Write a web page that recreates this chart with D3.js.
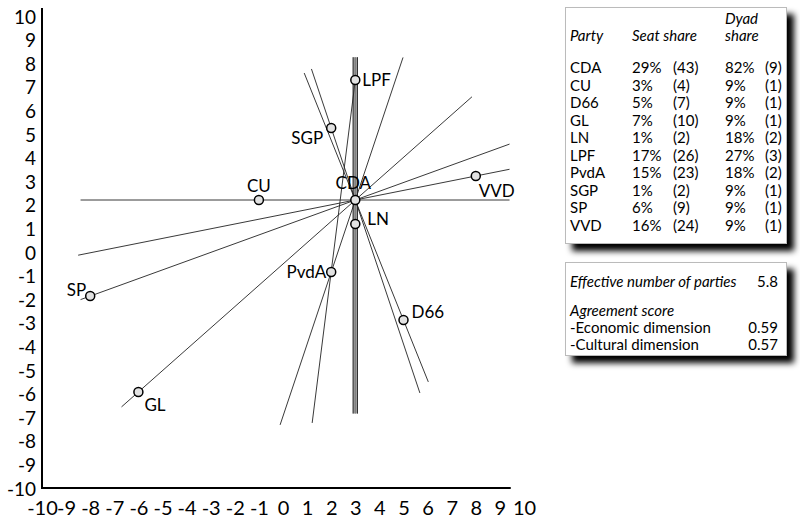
<!DOCTYPE html>
<html>
<head>
<meta charset="utf-8">
<script src="https://cdn.jsdelivr.net/npm/d3@7"></script>
<style>
  body { margin: 0; background: #fff; }
  svg { display: block; font-family: Lato, sans-serif; }
</style>
</head>
<body>
<svg id="chart" width="800" height="518"></svg>
<script>
// parties and their positions on the two dimensions
const parties = ['CDA', 'CU', 'D66', 'GL', 'LN', 'LPF', 'PvdA', 'SGP', 'SP', 'VVD'];
const posX = [3, -1, 5, -6, 3, 3, 2, 2, -8, 8];
const posY = [2, 2, -3, -6, 1, 7, -1, 5, -2, 3];

// table values
const seatPct = ['29%', '3%', '5%', '7%', '1%', '17%', '15%', '1%', '6%', '16%'];
const seatCount = ['(43)', '(4)', '(7)', '(10)', '(2)', '(26)', '(23)', '(2)', '(9)', '(24)'];
const dyadPct = ['82%', '9%', '9%', '9%', '18%', '27%', '18%', '9%', '9%', '9%'];
const dyadCount = ['(9)', '(1)', '(1)', '(1)', '(2)', '(3)', '(2)', '(1)', '(1)', '(1)'];

// dyads: the two parties and the line ends [x1, y1, x2, y2]
const dyadPairs = [['CDA', 'CU'], ['CDA', 'SP'], ['CDA', 'VVD'], ['CDA', 'GL'], ['CDA', 'PvdA'],
    ['CDA', 'D66'], ['CDA', 'SGP'], ['LPF', 'PvdA'], ['CDA', 'LN'], ['CDA', 'LPF'], ['LN', 'LPF']];
const dyadEnds = [
    [-8.4, 2, 9.4, 2],
    [-8.4, -2.15, 9.4, 4.33],
    [-8.5, -0.3, 9.4, 3.28],
    [-6.7, -6.62, 7.84, 6.3],
    [4.98, 7.94, -0.12, -7.37],
    [0.88, 7.29, 6.03, -5.58],
    [1.18, 7.46, 5.68, -6.04],
    [3, 7, 1.21, -7.29],
    [3, 7.95, 3, -6.9],
    [3, 7.95, 3, -6.9],
    [3, 7.95, 3, -6.9]
];

const effectiveParties = '5.8';
const agreementLabels = ['-Economic dimension', '-Cultural dimension'];
const agreementValues = ['0.59', '0.57'];

const ticks = d3.range(-10, 11);

const svg = d3.select('#chart');
const x = d3.scaleLinear().domain([-10, 10]).range([42, 524]);
const y = d3.scaleLinear().domain([-10, 10]).range([488, 8]);
// the tick labels of the original sit a bit tighter than the plot scale
const yLabel = d3.scaleLinear().domain([-10, 10]).range([489, 17]);

//shadow filter for the boxes
const defs = svg.append('defs');
const shadow = defs.append('filter').attr('id', 'shadow')
    .attr('x', '-10%').attr('y', '-10%').attr('width', '130%').attr('height', '130%');
shadow.append('feGaussianBlur').attr('in', 'SourceAlpha').attr('stdDeviation', 3);
shadow.append('feOffset').attr('dx', 7).attr('dy', 7).attr('result', 'off');
const merge = shadow.append('feMerge');
merge.append('feMergeNode').attr('in', 'off');
merge.append('feMergeNode').attr('in', 'SourceGraphic');

//axes, plain hyphen for the minus like the original
const fmt = d => String(d);
const xAxis = svg.append('g')
    .attr('transform', `translate(0,${y(-10)})`)
    .call(d3.axisBottom(x).tickValues(ticks).tickSize(0).tickPadding(13).tickFormat(fmt));
xAxis.select('.domain').remove();
xAxis.selectAll('text').attr('font-size', 20).attr('fill', '#000').attr('font-family', 'Lato, sans-serif');

const yAxis = svg.append('g')
    .attr('transform', `translate(${x(-10)},0)`)
    .call(d3.axisLeft(yLabel).tickValues(ticks).tickSize(0).tickPadding(6).tickFormat(fmt));
yAxis.select('.domain').remove();
yAxis.selectAll('text').attr('font-size', 19).attr('fill', '#000').attr('font-family', 'Lato, sans-serif');

svg.append('path')
    .attr('d', `M${x(-10)},${y(10)}V${y(-10)}H${x(9.45)}`)
    .attr('fill', 'none')
    .attr('stroke', '#000')
    .attr('stroke-width', 2);

//dyad lines, the ones on the same spot get spread a little
const plot = svg.append('g');
const seen = {};
const offsets = dyadEnds.map(e => {
    const key = e.join(',');
    seen[key] = (seen[key] || 0) + 1;
    return seen[key] - 1;
});
const dup = dyadEnds.map(e => dyadEnds.filter(f => f.join(',') === e.join(',')).length);

dyadEnds.forEach((e, i) => {
    if (dup[i] > 1 && offsets[i] === 0) {
        plot.append('line')
            .attr('x1', x(e[0])).attr('y1', y(e[1]))
            .attr('x2', x(e[2])).attr('y2', y(e[3]))
            .attr('stroke', '#9a9a9a')
            .attr('stroke-width', 5);
    }
});
plot.selectAll('line.dyad')
    .data(dyadEnds)
    .enter().append('line')
    .attr('class', 'dyad')
    .attr('x1', (d, i) => x(d[0]) + (dup[i] > 1 ? (offsets[i] - 1) * 2.2 : 0))
    .attr('y1', d => y(d[1]))
    .attr('x2', (d, i) => x(d[2]) + (dup[i] > 1 ? (offsets[i] - 1) * 2.2 : 0))
    .attr('y2', d => y(d[3]))
    .attr('stroke', (d, i) => dup[i] > 1 && offsets[i] === 1 ? '#777' : '#222')
    .attr('stroke-width', 0.9);

//party points
const pts = parties.map((p, i) => ({name: p, x: posX[i], y: posY[i]}));
plot.selectAll('circle')
    .data(pts)
    .enter().append('circle')
    .attr('cx', d => x(d.x))
    .attr('cy', d => y(d.y))
    .attr('r', 4.5)
    .attr('fill', '#e2e2e2')
    .attr('stroke', '#000')
    .attr('stroke-width', 1.5);

const labelPos = {
    CDA: [-2, -11, 'middle'], CU: [0, -8, 'middle'], D66: [8, -2, 'start'], GL: [6, 19, 'start'],
    LN: [12, 1, 'start'], LPF: [7, 6, 'start'], PvdA: [-5, 6, 'end'], SGP: [-8, 16, 'end'],
    SP: [-4, 0, 'end'], VVD: [3, 21, 'start']
};
plot.selectAll('text.party')
    .data(pts)
    .enter().append('text')
    .attr('class', 'party')
    .attr('x', d => x(d.x) + labelPos[d.name][0])
    .attr('y', d => y(d.y) + labelPos[d.name][1])
    .attr('text-anchor', d => labelPos[d.name][2])
    .attr('font-size', 17)
    .text(d => d.name);

//table box
const colX = [570, 632, 673, 725, 765];
const box = svg.append('g');
box.append('rect')
    .attr('x', 565.5).attr('y', 7.5).attr('width', 221).attr('height', 236)
    .attr('fill', '#fff').attr('stroke', '#bbb').attr('stroke-width', 1)
    .attr('filter', 'url(#shadow)');
const head = box.append('g').attr('font-style', 'italic').attr('font-size', 15);
head.append('text').attr('x', colX[0]).attr('y', 41).text('Party');
head.append('text').attr('x', colX[1]).attr('y', 41).text('Seat share');
head.append('text').attr('x', colX[3]).attr('y', 24).text('Dyad');
head.append('text').attr('x', colX[3]).attr('y', 41).text('share');

const rowY = d3.scalePoint().domain(parties).range([73, 231]);
const cols = [parties, seatPct, seatCount, dyadPct, dyadCount];
cols.forEach((col, c) => {
    box.selectAll(`text.c${c}`)
        .data(col)
        .enter().append('text')
        .attr('class', `c${c}`)
        .attr('x', colX[c])
        .attr('y', (d, i) => rowY(parties[i]))
        .attr('font-size', 15)
        .text(d => d);
});

//second box
const box2 = svg.append('g');
box2.append('rect')
    .attr('x', 565.5).attr('y', 262.5).attr('width', 221).attr('height', 93)
    .attr('fill', '#fff').attr('stroke', '#bbb').attr('stroke-width', 1)
    .attr('filter', 'url(#shadow)');
box2.append('text').attr('x', 570).attr('y', 287).attr('font-size', 15).attr('font-style', 'italic')
    .text('Effective number of parties');
box2.append('text').attr('x', 778).attr('y', 287).attr('font-size', 15).attr('text-anchor', 'end')
    .text(effectiveParties);
box2.append('text').attr('x', 570).attr('y', 316).attr('font-size', 15).attr('font-style', 'italic')
    .text('Agreement score');
agreementLabels.forEach((l, i) => {
    box2.append('text').attr('x', 570).attr('y', 333 + i * 17).attr('font-size', 15).text(l);
    box2.append('text').attr('x', 778).attr('y', 333 + i * 17).attr('font-size', 15).attr('text-anchor', 'end')
        .text(agreementValues[i]);
});
</script>
</body>
</html>
